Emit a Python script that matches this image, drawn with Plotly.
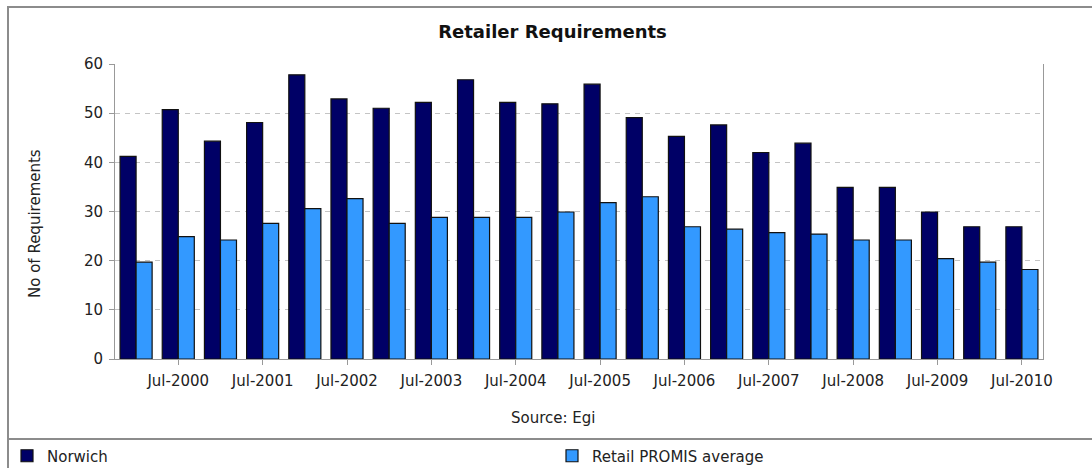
import plotly.graph_objects as go

# ---- data ----
periods = []
for yr in range(2000, 2011):
    periods += [f"Jan-{yr}", f"Jul-{yr}"]
norwich = [41.2, 50.7, 44.3, 48.1, 57.8, 52.9, 51.0, 52.2, 56.8, 52.2, 51.9,
           55.9, 49.1, 45.3, 47.6, 42.0, 43.9, 34.9, 34.9, 29.9, 26.9, 26.9]
retail = [19.7, 24.9, 24.2, 27.6, 30.6, 32.6, 27.6, 28.8, 28.8, 28.8, 29.9,
          31.8, 33.0, 26.9, 26.4, 25.7, 25.4, 24.2, 24.2, 20.4, 19.7, 18.2]
tick_labels = [p for p in periods if p.startswith("Jul")]
y_ticks = [0, 10, 20, 30, 40, 50, 60]

W, H = 1092, 468
L, R, T, B = 115, 1043, 64, 359
FONT = "DejaVu Sans"
TXT = "#222222"

def px(x):
    return (x - L) / (R - L)

def py(y):
    return (B - y) / (B - T)

fig = go.Figure()
fig.add_trace(go.Bar(x=periods, y=norwich, name="Norwich", legend="legend",
                     marker=dict(color="#000066", line=dict(color="#111111", width=1.2))))
fig.add_trace(go.Bar(x=periods, y=retail, name="Retail PROMIS average", legend="legend2",
                     marker=dict(color="#3399FF", line=dict(color="#111111", width=1.2))))

leg_common = dict(orientation="h", xanchor="left", yanchor="middle",
                  font=dict(family=FONT, size=15, color=TXT),
                  bgcolor="rgba(0,0,0,0)", itemwidth=30)

fig.update_layout(
    width=W, height=H,
    margin=dict(l=L, r=W - R, t=T, b=H - B, autoexpand=False),
    paper_bgcolor="white", plot_bgcolor="white",
    barmode="group", bargap=0.24, bargroupgap=0,
    font=dict(family=FONT, size=15, color=TXT),
    title=dict(text="<b>Retailer Requirements</b>", x=552.5 / W, xref="container",
               xanchor="center", y=1 - 32 / H, yanchor="middle",
               font=dict(family=FONT, size=18, color="#111111")),
    showlegend=True,
    legend=dict(x=px(7), y=py(456), **leg_common),
    legend2=dict(x=px(552), y=py(456), **leg_common),
    xaxis=dict(type="category", tickvals=tick_labels, ticktext=tick_labels,
               ticks="outside", ticklen=5, tickcolor="#999999",
               showline=True, linecolor="#999999", linewidth=1,
               showgrid=False, tickfont=dict(size=15, color=TXT), tickangle=0,
               ticklabelstandoff=3),
    yaxis=dict(range=[0, 60], tickvals=y_ticks, ticks="outside", ticklen=5,
               tickcolor="#999999", showline=True, linecolor="#999999", linewidth=1,
               mirror=True, showgrid=True, gridcolor="#c4c4c4", griddash="5px,5px",
               gridwidth=1, zeroline=False, tickfont=dict(size=15, color=TXT),
               ticklabelstandoff=3),
)

fig.update_layout(shapes=[
    dict(type="rect", xref="paper", yref="paper", x0=px(8), x1=px(W + 5),
         y0=py(7), y1=py(H + 5), line=dict(color="#8c8c8c", width=2), layer="below"),
    dict(type="line", xref="paper", yref="paper", x0=px(8), x1=px(W + 5),
         y0=py(439), y1=py(439), line=dict(color="#8c8c8c", width=2)),
])

fig.add_annotation(text="No of Requirements", xref="paper", yref="paper",
                   x=px(35), y=py(224), textangle=-90, showarrow=False,
                   xanchor="center", yanchor="middle", font=dict(size=15, color=TXT))
fig.add_annotation(text="Source: Egi", xref="paper", yref="paper",
                   x=px(553), y=py(418), showarrow=False,
                   xanchor="center", yanchor="middle", font=dict(size=15, color=TXT))

fig.write_html("out.html")
